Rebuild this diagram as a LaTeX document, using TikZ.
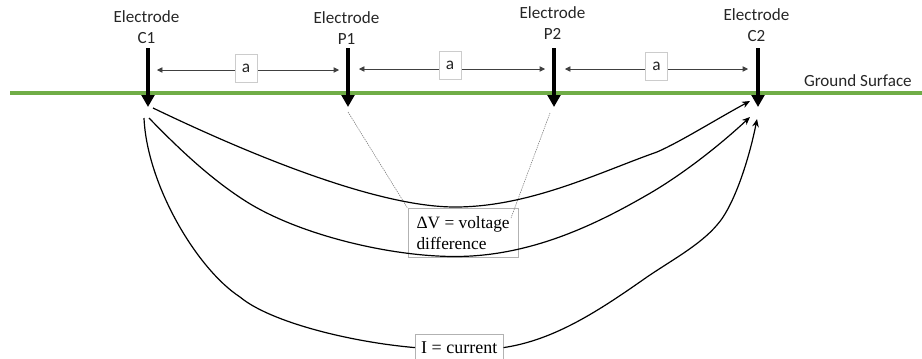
\documentclass[tikz,border=0pt]{standalone}
\usepackage{fontspec}
\setmainfont{Liberation Serif}
\newfontfamily\calibri{Carlito}
\usetikzlibrary{positioning, calc, arrows.meta}
\definecolor{groundgreen}{HTML}{70AD47}

\begin{document}
\begin{tikzpicture}[
    x=0.75pt, y=-0.75pt,
    electrode/.style={align=center, inner sep=0pt, text=black!85, font=\calibri\fontsize{12.8}{15.8}\selectfont},
    spacing/.style={rectangle, draw=black!20, fill=white, minimum width=16.5pt, minimum height=21pt, inner sep=0pt, text=black!85, font=\calibri\fontsize{13}{14}\selectfont},
    label/.style={rectangle, draw=black!30, align=left, inner sep=0pt, font=\fontsize{13}{15.8}\selectfont},
    pin/.style={line width=3pt,-{Triangle[length=9pt,width=9.5pt]}},
    span/.style={draw=black!75, line width=0.5pt,{Triangle[length=4pt,width=4pt]}-{Triangle[length=4pt,width=4pt]}},
    flow/.style={line width=0.9pt,-{Stealth[length=6pt,width=5pt]}},
    flowpart/.style={line width=0.9pt},
    probe/.style={draw=black!55, line width=0.4pt, dash pattern=on 1pt off 0.7pt}
]
\useasboundingbox (0,0) rectangle (922,358);
% ground
\coordinate (groundL) at (10,93);
\coordinate (groundR) at (922,93);
\draw [groundgreen, line width=3pt] (groundL) -- (groundR);
\node (surface) [electrode, anchor=base east] at (912,86) {Ground Surface};
% electrodes
\node (c1) [electrode, anchor=south] at (146.5,44) {Electrode\\C1};
\node (p1) [electrode, anchor=south] at (346.5,45) {Electrode\\P1};
\node (p2) [electrode, anchor=south] at (552.5,40) {Electrode\\P2};
\node (c2) [electrode, anchor=south] at (756.5,42) {Electrode\\C2};
\coordinate (c1top) at (148,48); \coordinate (c1tip) at (148,107);
\coordinate (p1top) at (348,48); \coordinate (p1tip) at (348,107);
\coordinate (p2top) at (554,48); \coordinate (p2tip) at (554,107);
\coordinate (c2top) at (758,48); \coordinate (c2tip) at (758,107);
\draw [pin] (c1top) -- (c1tip);
\draw [pin] (p1top) -- (p1tip);
\draw [pin] (p2top) -- (p2tip);
\draw [pin] (c2top) -- (c2tip);
% spacings
\coordinate (s1L) at (157,70); \coordinate (s1R) at (339,70);
\coordinate (s2L) at (359,69); \coordinate (s2R) at (545,69);
\coordinate (s3L) at (565,69); \coordinate (s3R) at (748,69);
\draw [span] (s1L) -- (s1R);
\draw [span] (s2L) -- (s2R);
\draw [span] (s3L) -- (s3R);
\node (a1) [spacing] at (246,68) {a};
\node (a2) [spacing] at (450,65.5) {a};
\node (a3) [spacing] at (656.5,66.5) {a};
% text boxes
\node (dv) [label, minimum width=83pt, minimum height=37pt, anchor=north west] at (407.5,208) {ΔV = voltage\\difference};
\node (cur) [label, fill=white, minimum width=66pt, minimum height=20pt, align=center, font=\fontsize{13.5}{15.8}\selectfont, anchor=north west] at (415,334) {I = current};
% probes
\coordinate (p1low) at (348,112); \coordinate (p2low) at (550,113);
\coordinate (dvin) at (511,218);
\draw [probe] (p1low) -- (dv.north west);
\draw [probe] (p2low) -- (dvin);
% current lines
\coordinate (outA) at (153,108); \coordinate (inA) at (750,101);
\coordinate (outB) at (149,118); \coordinate (inB) at (750,117);
\coordinate (outC) at (144,118); \coordinate (inC) at (757,119);
\draw [flow] (outA) .. controls (230,145) and (370,207) .. (455,207)
    .. controls (530,207) and (600,172) .. (657,152)
    .. controls (680,142) and (715,120) .. (inA);
\draw [flow] (outB) .. controls (180,150) and (212,180) .. (247,202)
    .. controls (300,235) and (390,256.5) .. (455,256.5)
    .. controls (530,256.5) and (595,225) .. (647,195)
    .. controls (682,175) and (720,145) .. (inB);
\draw [flowpart] (outC) .. controls (147,185) and (197,269) .. (240,297)
    .. controls (270,322) and (350,342) .. (cur.west);
\draw [flow] (cur.east) .. controls (555,340) and (600,310) .. (647,277)
    .. controls (672,260) and (700,245) .. (717,225)
    .. controls (735,205) and (750,155) .. (inC);
\end{tikzpicture}
\end{document}
